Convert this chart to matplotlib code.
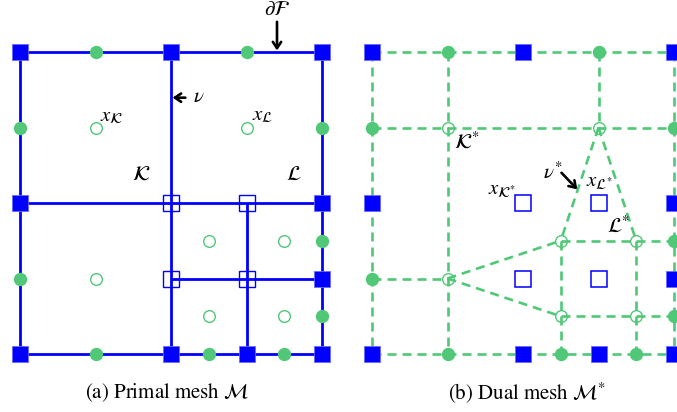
import matplotlib
matplotlib.use("Agg")
import matplotlib.pyplot as plt

plt.rcParams['font.family'] = ['STIXGeneral', 'DejaVu Serif']
plt.rcParams['mathtext.fontset'] = 'stix'
plt.rcParams['lines.scale_dashes'] = False

# ---------------- data (mesh units, y downward) ----------------
vert_x = [0, 2, 4, 0, 4, 0, 2, 3, 4, 4]
vert_y = [0, 0, 0, 2, 2, 4, 4, 4, 4, 3]
hang_x = [2, 3, 2, 3]
hang_y = [2, 2, 3, 3]
bmid_x = [1, 3, 0, 4, 0, 1, 2.5, 3.5, 4, 4]
bmid_y = [0, 0, 1, 1, 3, 4, 4, 4, 2.5, 3.5]
cent_x = [1, 3, 1, 2.5, 3.5, 2.5, 3.5]
cent_y = [1, 1, 3, 2.5, 2.5, 3.5, 3.5]
primal_edges = [(0, 0, 4, 0), (4, 0, 4, 4), (4, 4, 0, 4), (0, 4, 0, 0),
                (2, 0, 2, 4), (0, 2, 4, 2), (3, 2, 3, 4), (2, 3, 4, 3)]
dual_edges = [(0, 0, 4, 0), (0, 4, 4, 4), (0, 0, 0, 4), (4, 0, 4, 4),
              (1, 0, 1, 4), (0, 1, 4, 1), (3, 0, 3, 1), (0, 3, 1, 3),
              (1, 3, 2.5, 2.5), (1, 3, 2.5, 3.5), (3, 1, 2.5, 2.5), (3, 1, 3.5, 2.5),
              (2.5, 2.5, 4, 2.5), (2.5, 3.5, 4, 3.5), (2.5, 2.5, 2.5, 4), (3.5, 2.5, 3.5, 4)]
captions = [r"(a) Primal mesh $\mathcal{M}$", r"(b) Dual mesh $\mathcal{M}^{*}$"]

BLUE = '#0000FF'
GREEN = '#50C878'
W, H = 677, 412
S = 75.5          # px per mesh unit
OY = 52           # px of y=0

fig = plt.figure(figsize=(W / 100, H / 100), dpi=100)


def make_axes(px0, px1, ox):
    ax = fig.add_axes([px0 / W, 0, (px1 - px0) / W, 1])
    ax.set_xlim((px0 - ox) / S, (px1 - ox) / S)
    ax.set_ylim((H - OY) / S, -OY / S)
    ax.axis('off')
    return ax


axL = make_axes(0, 340, 20)
axR = make_axes(340, W, 372)

# ---------------- primal mesh ----------------
for x0, y0, x1, y1 in primal_edges:
    axL.plot([x0, x1], [y0, y1], color=BLUE, lw=2.0, zorder=2, solid_capstyle='butt')
axL.plot(hang_x, hang_y, 's', ms=11.5, mfc='none', mec=BLUE, mew=1.0, zorder=3)
axL.plot(vert_x, vert_y, 's', ms=11.8, mfc=BLUE, mec='#6A6AFF', mew=0.6, zorder=4)
axL.plot(bmid_x, bmid_y, 'o', ms=9.6, mfc=GREEN, mec=GREEN, mew=0, zorder=4)
axL.plot(cent_x, cent_y, 'o', ms=8.4, mfc='none', mec=GREEN, mew=1.0, zorder=4)

arrow = dict(arrowstyle='->,head_length=0.45,head_width=0.3', color='black', lw=1.9,
             shrinkA=0, shrinkB=0)
fs = 15
axL.annotate('', xy=(3.404, -0.02), xytext=(3.404, -0.40), arrowprops=arrow, zorder=6)
axL.text(3.404, -0.556, r'$\partial\mathcal{F}$', ha='center', va='center', fontsize=fs)
axL.annotate('', xy=(2.02, 0.605), xytext=(2.19, 0.605), arrowprops=arrow, zorder=6)
axL.text(2.37, 0.60, r'$\nu$', ha='center', va='center', fontsize=fs)
axL.text(1.22, 0.84, r'$x_{\mathcal{K}}$', ha='center', va='center', fontsize=fs)
axL.text(3.21, 0.84, r'$x_{\mathcal{L}}$', ha='center', va='center', fontsize=fs)
axL.text(1.60, 1.63, r'$\mathcal{K}$', ha='center', va='center', fontsize=fs)
axL.text(3.62, 1.63, r'$\mathcal{L}$', ha='center', va='center', fontsize=fs)
axL.text(1.947, 4.517, captions[0], ha='center', va='center', fontsize=15)

# ---------------- dual mesh ----------------
for x0, y0, x1, y1 in dual_edges:
    axR.plot([x0, x1], [y0, y1], color=GREEN, lw=1.9, zorder=3,
             dashes=(6.5, 4.3), dash_capstyle='butt')
axR.plot(cent_x, cent_y, 'o', ms=8.4, mfc='white', mec=GREEN, mew=1.0, zorder=2)
axR.plot(hang_x, hang_y, 's', ms=11.5, mfc='none', mec=BLUE, mew=1.1, zorder=4)
axR.plot(vert_x, vert_y, 's', ms=11.8, mfc=BLUE, mec='#6A6AFF', mew=0.6, zorder=5,
         clip_on=False)
axR.plot(bmid_x, bmid_y, 'o', ms=9.6, mfc=GREEN, mec=GREEN, mew=0, zorder=5,
         clip_on=False)

axR.text(1.25, 1.19, r'$\mathcal{K}^{*}$', ha='center', va='center', fontsize=fs)
axR.text(1.73, 1.82, r'$x_{\mathcal{K}^{*}}$', ha='center', va='center', fontsize=fs)
axR.text(2.39, 1.60, r'$\nu^{*}$', ha='center', va='center', fontsize=fs)
axR.annotate('', xy=(2.72, 1.82), xytext=(2.51, 1.60), arrowprops=arrow, zorder=6)
axR.text(3.01, 1.71, r'$x_{\mathcal{L}^{*}}$', ha='center', va='center', fontsize=fs)
axR.text(3.27, 2.31, r'$\mathcal{L}^{*}$', ha='center', va='center', fontsize=fs)
axR.text(2.05, 4.517, captions[1], ha='center', va='center', fontsize=15)

fig.savefig('out.png', dpi=100)
